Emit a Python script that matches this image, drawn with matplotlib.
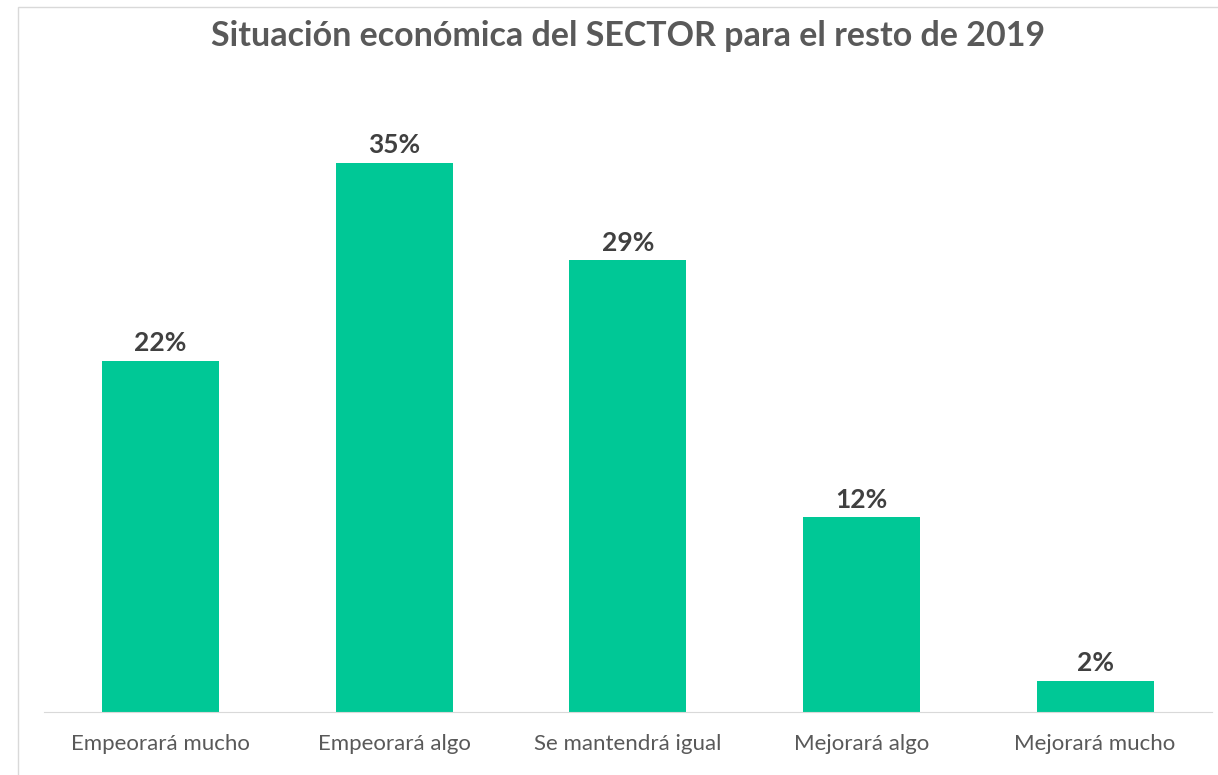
import matplotlib.pyplot as plt
from matplotlib.patches import Rectangle

categories = ["Empeorará mucho", "Empeorará algo", "Se mantendrá igual",
              "Mejorará algo", "Mejorará mucho"]
values = [22.4, 35.0, 28.8, 12.4, 2.0]
title = "Situación económica del SECTOR para el resto de 2019"

plt.rcParams['font.family'] = ['Lato', 'DejaVu Sans']

fig = plt.figure(figsize=(12.18, 7.75), dpi=100)
ax = fig.add_axes([0.0359, 0.0813, 0.9591, 0.7957])

x = range(len(categories))
bars = ax.bar(x, values, width=0.5, color="#00C896")
ax.bar_label(bars, labels=[f"{v:.0f}%" for v in values], padding=4,
             fontsize=19, fontweight="bold", color="#404040")

ax.set_xlim(-0.5, len(categories) - 0.5)
ax.set_ylim(0, 39.3)
ax.set_xticks(list(x))
ax.set_xticklabels(categories, fontsize=16, color="#595959")
ax.tick_params(axis="x", length=0, pad=16)
ax.set_yticks([])
for s in ["top", "right", "left"]:
    ax.spines[s].set_visible(False)
ax.spines["bottom"].set_color("#d9d9d9")

fig.text(0.516, 0.953, title, ha="center", va="center", fontsize=24.5,
         fontweight="bold", color="#595959")

# light frame around the chart area
fig.patches.append(Rectangle((18 / 1218, -0.01), 1.1, 1 - 7 / 775 + 0.01,
                             transform=fig.transFigure, fill=False,
                             edgecolor="#d9d9d9", linewidth=1))

fig.savefig("out.png", dpi=100)
